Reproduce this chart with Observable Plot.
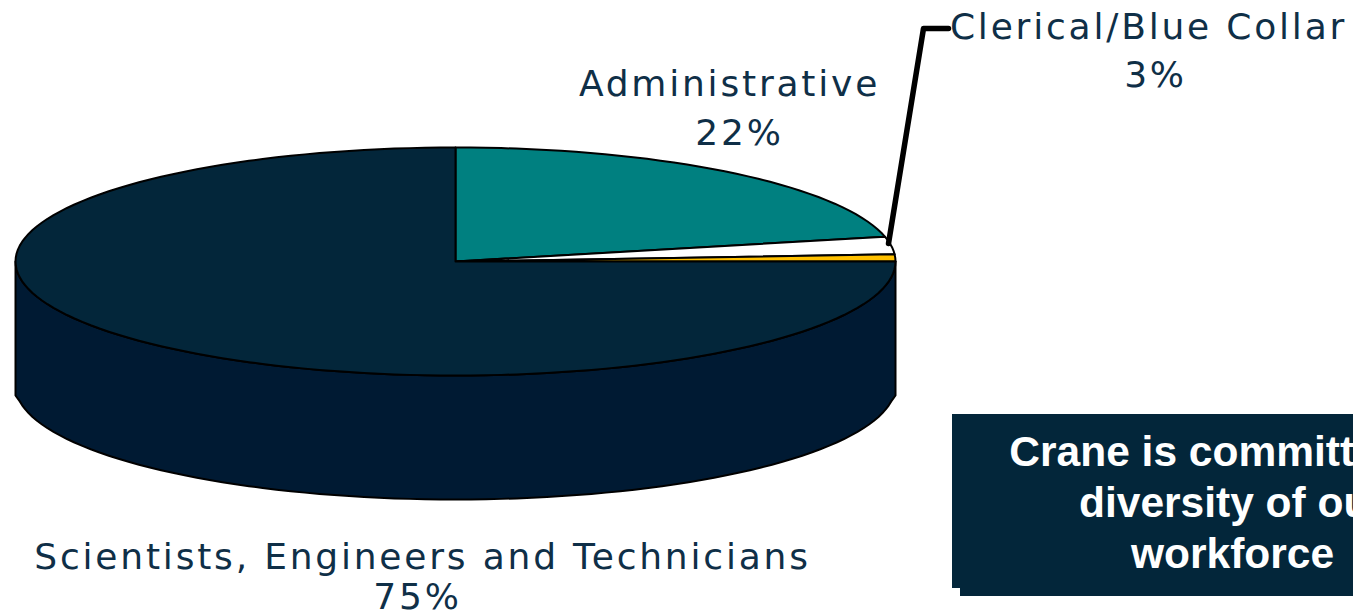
<!DOCTYPE html>
<html>
<head>
<meta charset="utf-8">
<script src="https://cdn.jsdelivr.net/npm/d3@7"></script>
<script src="https://cdn.jsdelivr.net/npm/@observablehq/plot@0.6"></script>
<style>html,body{margin:0;padding:0;background:#fff;overflow:hidden}svg{display:block}</style>
</head>
<body>
<div id="chart"></div>
<script>
// Data
const sliceNames = ["Administrative", "Clerical/Blue Collar", "Clerical/Blue Collar (sliver)", "Scientists, Engineers and Technicians"];
const sliceShares = [21.5, 2.5, 1, 75];
const sliceColors = ["#008080", "#ffffff", "#ffc000", "#03263a"];
const labelLines = ["Administrative", "22%", "Clerical/Blue Collar", "3%", "Scientists, Engineers and Technicians", "75%"];
const labelX = [729, 739, 1148, 1155, 422, 417];
const labelY = [84, 133, 27, 75, 557, 597];
const noteLines = ["Crane is committed to", "diversity of our", "workforce"];
const noteY = [452, 503, 554];

// Layout of the drawing
const W = 1353, H = 612;
const cx = 455, cy = 261, rx = 440, ry = 114, depth = 124, wallEdge = 395;
const N = 2;

const rimPoint = (deg, dy = 0) => {
  const a = deg * Math.PI / 180;
  return {x: cx + rx * Math.sin(a), y: cy - ry * Math.cos(a) + dy};
};
const arc = (from, to, dy = 0) => {
  const pts = [];
  const n = Math.max(1, Math.ceil(Math.abs(to - from) / N));
  for (let i = 0; i <= n; ++i) pts.push(rimPoint(from + (to - from) * i / n, dy));
  return pts;
};

let acc = 0;
const slices = sliceShares.map((s, i) => {
  const a0 = acc / 100 * 360; acc += s; const a1 = acc / 100 * 360;
  return {name: sliceNames[i], color: sliceColors[i],
          pts: [{x: cx, y: cy}, ...arc(a0, a1), {x: cx, y: cy}]};
});
const wall = [...arc(90, 270), {x: cx - rx, y: wallEdge}, ...arc(262, 98, depth), {x: cx + rx, y: wallEdge}, rimPoint(90)];

const spaced = (amount) => (index, scales, values, dims, ctx, next) => {
  const g = next(index, scales, values, dims, ctx);
  g.style.letterSpacing = amount;
  return g;
};
const labels = labelLines.map((t, i) => ({t, x: labelX[i], y: labelY[i]}));
const notes = noteLines.map((t, i) => ({t, y: noteY[i]}));

const plot = Plot.plot({
  width: W, height: H,
  margin: 0,
  x: {domain: [0, W], range: [0, W], axis: null},
  y: {domain: [0, H], range: [0, H], axis: null},
  style: {background: "#fff", overflow: "hidden"},
  marks: [
    Plot.line(wall, {x: "x", y: "y", fill: "#001a33", stroke: "#000", strokeWidth: 2, curve: "linear"}),
    ...slices.map(s => Plot.line(s.pts, {x: "x", y: "y", fill: s.color, stroke: "#000", strokeWidth: 2, curve: "linear", title: () => s.name})),
    Plot.line([{x: 888, y: 243}, {x: 923, y: 28}, {x: 948, y: 28}], {x: "x", y: "y", stroke: "#000", strokeWidth: 5.5, strokeLinejoin: "round"}),
    Plot.text(labels, {x: "x", y: "y", text: "t", fill: "#0f2f47", fontFamily: "'DejaVu Sans', sans-serif", fontWeight: 400, fontSize: 36, render: spaced("2.8px")}),
    Plot.rect([{x1: 960, x2: W + 10, y1: 422, y2: 596}], {x1: "x1", x2: "x2", y1: "y1", y2: "y2", fill: "#03263a"}),
    Plot.rect([{x1: 952, x2: W + 10, y1: 414, y2: 588}], {x1: "x1", x2: "x2", y1: "y1", y2: "y2", fill: "#03263a"}),
    Plot.text(notes, {x: () => 1232, y: "y", text: "t", fill: "#fff", fontFamily: "'Liberation Sans', Arial, sans-serif", fontWeight: "bold", fontSize: 42.5})
  ]
});
document.getElementById("chart").append(plot);
</script>
</body>
</html>
